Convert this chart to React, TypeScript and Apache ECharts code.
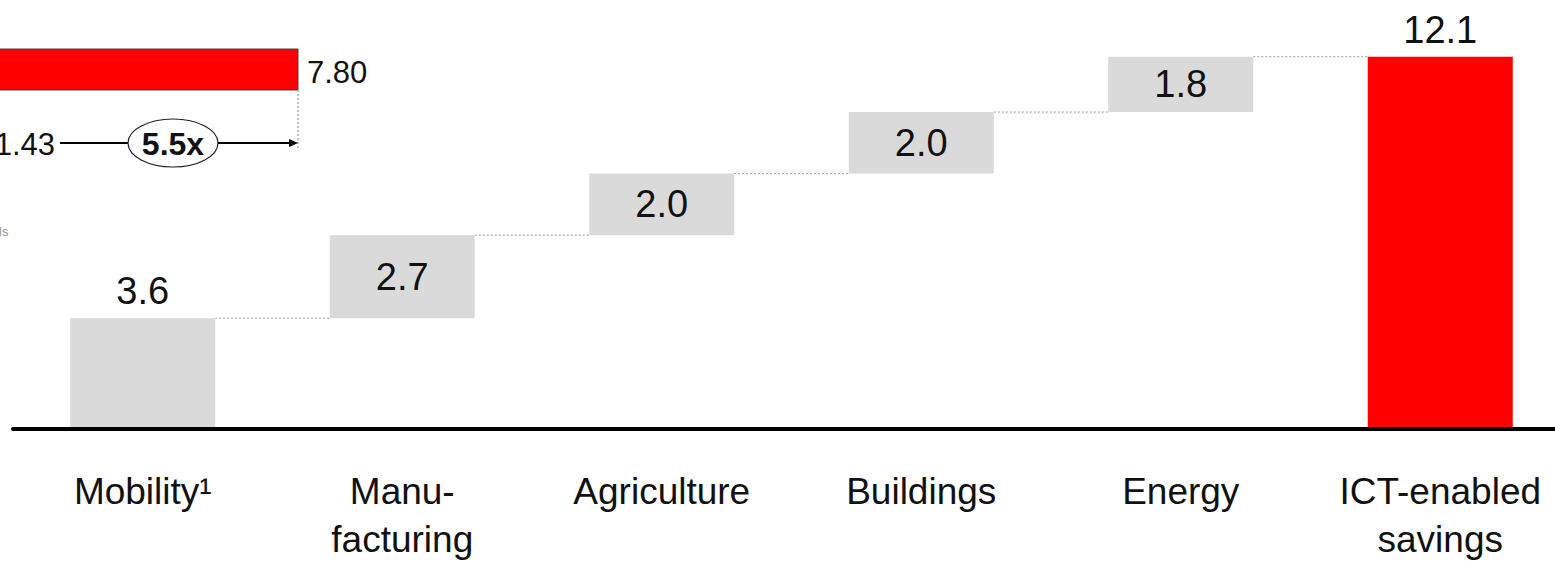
import React, { useEffect, useRef } from "react";
import * as echarts from "echarts";

const categories = ["Mobility¹", "Manu-\nfacturing", "Agriculture", "Buildings", "Energy", "ICT-enabled\nsavings"];
const values = [3.6, 2.7, 2.0, 2.0, 1.8, 12.1];
const isTotal = [false, false, false, false, false, true];
const labelOnTop = [true, false, false, false, false, true];

// Partial chart at the left edge (cropped in the reference)
const insetValue = "7.80";
const insetStart = "1.43";
const insetMultiple = "5.5x";
const insetFragment = "ls";

const FONT = "'Liberation Sans', Arial, Helvetica, sans-serif";
const GRAY = "#dadada";
const RED = "#ff0000";

export default function App() {
  const ref = useRef<HTMLDivElement>(null);

  useEffect(() => {
    if (!ref.current) return;
    const chart = echarts.init(ref.current, undefined, { renderer: "svg" });

    const bases: number[] = [];
    const levels: number[] = [];
    let cum = 0;
    values.forEach((v, i) => {
      if (isTotal[i]) {
        bases.push(0);
      } else {
        bases.push(cum);
        cum += v;
        levels.push(cum);
      }
    });
    const connectorData = levels.map((lv, i) => [i, lv]);
    const BAR_W = 145;

    chart.setOption({
      animation: false,
      grid: { left: 13, width: 1557, top: 29, bottom: 135 },
      xAxis: {
        type: "category",
        data: categories,
        z: 10,
        axisTick: { show: false },
        axisLine: { lineStyle: { color: "#000", width: 4 } },
        axisLabel: {
          margin: 38,
          fontSize: 37,
          lineHeight: 48,
          color: "#111",
          fontFamily: FONT,
          interval: 0,
        },
      },
      yAxis: { type: "value", min: 0, max: 13, show: false },
      series: [
        {
          type: "bar",
          stack: "wf",
          barWidth: BAR_W,
          itemStyle: { color: "transparent" },
          emphasis: { disabled: true },
          data: bases,
          silent: true,
        },
        {
          type: "bar",
          stack: "wf",
          barWidth: BAR_W,
          data: values.map((v, i) => ({
            value: v,
            itemStyle: { color: isTotal[i] ? RED : GRAY },
            label: {
              show: true,
              position: labelOnTop[i] ? "top" : "inside",
              distance: 8,
              fontSize: 38,
              color: "#111",
              fontFamily: FONT,
              formatter: () => v.toFixed(1),
            },
          })),
        },
        {
          type: "custom",
          silent: true,
          z: 1,
          data: connectorData,
          encode: { x: 0, y: 1 },
          renderItem: (params: any, api: any) => {
            const i = api.value(0);
            const lv = api.value(1);
            const p1 = api.coord([i, lv]);
            const p2 = api.coord([i + 1, lv]);
            return {
              type: "line",
              shape: { x1: p1[0] + BAR_W / 2, y1: p1[1], x2: p2[0] - BAR_W / 2, y2: p2[1] },
              style: { stroke: "#999", lineWidth: 1, lineDash: [2, 2] },
            };
          },
        },
      ],
      graphic: [
        {
          type: "rect",
          shape: { x: -5, y: 49, width: 303, height: 41 },
          style: { fill: RED, stroke: "#444", lineWidth: 1 },
        },
        {
          type: "text",
          x: 307,
          y: 72,
          style: { text: insetValue, fontSize: 31, fill: "#111", fontFamily: FONT, verticalAlign: "middle", align: "left" },
        },
        {
          type: "line",
          shape: { x1: 298, y1: 90, x2: 298, y2: 148 },
          style: { stroke: "#888", lineWidth: 1, lineDash: [2, 2] },
        },
        {
          type: "text",
          x: 55,
          y: 144,
          style: { text: insetStart, fontSize: 31, fill: "#111", fontFamily: FONT, verticalAlign: "middle", align: "right" },
        },
        {
          type: "line",
          shape: { x1: 60, y1: 143, x2: 128, y2: 143 },
          style: { stroke: "#000", lineWidth: 2 },
        },
        {
          type: "ellipse",
          shape: { cx: 173, cy: 143, rx: 45, ry: 24 },
          style: { fill: "#fff", stroke: "#222", lineWidth: 1.2 },
        },
        {
          type: "text",
          x: 173,
          y: 144,
          style: { text: insetMultiple, fontSize: 32, fontWeight: "bold", fill: "#111", fontFamily: FONT, verticalAlign: "middle", align: "center" },
        },
        {
          type: "line",
          shape: { x1: 218, y1: 143, x2: 290, y2: 143 },
          style: { stroke: "#000", lineWidth: 2 },
        },
        {
          type: "polygon",
          shape: { points: [[289, 139], [298, 143], [289, 147]] },
          style: { fill: "#000" },
        },
        {
          type: "text",
          x: -1,
          y: 231,
          style: { text: insetFragment, fontSize: 13, fill: "#999", fontFamily: FONT, verticalAlign: "middle", align: "left" },
        },
      ],
    });

    return () => chart.dispose();
  }, []);

  return (
    <div
      ref={ref}
      style={{ position: "fixed", left: 0, top: 0, width: 1575, height: 564, background: "#fff" }}
    />
  );
}
